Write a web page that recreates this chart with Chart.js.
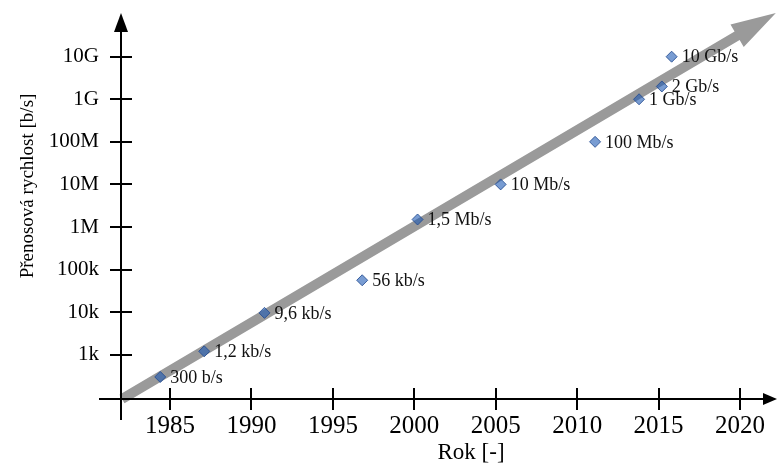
<!DOCTYPE html>
<html>
<head>
<meta charset="utf-8">
<script src="https://cdn.jsdelivr.net/npm/chart.js@4.4.1/dist/chart.umd.min.js"></script>
<style>
  html, body { margin: 0; padding: 0; background: #fff; }
  canvas { display: block; }
</style>
</head>
<body>
<canvas id="chart" width="777" height="463"></canvas>
<script>
// Milestones in data transfer speed
const years = [1984.4, 1987.1, 1990.8, 1996.8, 2000.2, 2005.3, 2011.1, 2013.8, 2015.2, 2015.8];
const rates = [300, 1200, 9600, 56000, 1.5e6, 1e7, 1e8, 1e9, 2e9, 1e10];
const rateLabels = ['300 b/s', '1,2 kb/s', '9,6 kb/s', '56 kb/s', '1,5 Mb/s', '10 Mb/s', '100 Mb/s', '1 Gb/s', '2 Gb/s', '10 Gb/s'];

// Axis ticks
const xTickYears = [1985, 1990, 1995, 2000, 2005, 2010, 2015, 2020];
const yTickValues = [1e3, 1e4, 1e5, 1e6, 1e7, 1e8, 1e9, 1e10];
const yTickLabels = ['1k', '10k', '100k', '1M', '10M', '100M', '1G', '10G'];

// Growth trend arrow (start and end)
const trendYears = [1982.05, 2022.2];
const trendRates = [91, 1.07e11];

const xTitle = 'Rok [-]';
const yTitle = 'Přenosová rychlost [b/s]';

const SERIF = "'Liberation Serif', 'Times New Roman', serif";

function drawArrowHead(ctx, tipX, tipY, ux, uy, len, half) {
  const nx = -uy, ny = ux;
  const bx = tipX - ux * len, by = tipY - uy * len;
  ctx.beginPath();
  ctx.moveTo(tipX, tipY);
  ctx.lineTo(bx + nx * half, by + ny * half);
  ctx.lineTo(bx - nx * half, by - ny * half);
  ctx.closePath();
  ctx.fill();
}

// Trend arrow, axes with arrowheads and crossing tick marks, axis titles
const axesPlugin = {
  id: 'axesDecor',
  beforeDatasetsDraw(chart) {
    const { ctx, chartArea, scales } = chart;
    const xs = scales.x, ys = scales.y;
    ctx.save();

    // gray trend arrow
    const x0 = xs.getPixelForValue(trendYears[0]), y0 = ys.getPixelForValue(trendRates[0]);
    const x1 = xs.getPixelForValue(trendYears[1]), y1 = ys.getPixelForValue(trendRates[1]);
    const dx = x1 - x0, dy = y1 - y0, L = Math.hypot(dx, dy);
    const ux = dx / L, uy = dy / L, nx = -uy, ny = ux;
    const headLen = 45, headHalf = 13, shaftHalf = 5;
    const bx = x1 - ux * headLen, by = y1 - uy * headLen;
    ctx.fillStyle = '#9a9a9a';
    ctx.beginPath();
    ctx.moveTo(x0 + nx * shaftHalf, y0 + ny * shaftHalf);
    ctx.lineTo(bx + nx * shaftHalf, by + ny * shaftHalf);
    ctx.lineTo(bx + nx * headHalf, by + ny * headHalf);
    ctx.lineTo(x1, y1);
    ctx.lineTo(bx - nx * headHalf, by - ny * headHalf);
    ctx.lineTo(bx - nx * shaftHalf, by - ny * shaftHalf);
    ctx.lineTo(x0 - nx * shaftHalf, y0 - ny * shaftHalf);
    ctx.closePath();
    ctx.fill();

    // axes
    const ax = chartArea.left, ay = chartArea.bottom;
    ctx.strokeStyle = '#000';
    ctx.fillStyle = '#000';
    ctx.lineWidth = 2;
    ctx.beginPath();
    ctx.moveTo(ax, ay + 21);
    ctx.lineTo(ax, chartArea.top + 15);
    ctx.moveTo(ax - 22, ay);
    ctx.lineTo(chartArea.right - 10, ay);
    ctx.stroke();
    drawArrowHead(ctx, ax, chartArea.top, 0, -1, 19, 7);
    drawArrowHead(ctx, chartArea.right, ay, 1, 0, 14, 6);

    // tick marks crossing the axes
    ctx.beginPath();
    yTickValues.forEach(v => {
      const py = Math.round(ys.getPixelForValue(v));
      ctx.moveTo(ax - 11, py);
      ctx.lineTo(ax + 11, py);
    });
    xTickYears.forEach(v => {
      const px = Math.round(xs.getPixelForValue(v));
      ctx.moveTo(px, ay - 11);
      ctx.lineTo(px, ay + 11);
    });
    ctx.stroke();

    // axis titles
    ctx.fillStyle = '#000';
    ctx.textBaseline = 'alphabetic';
    ctx.textAlign = 'center';
    ctx.font = '23px ' + SERIF;
    ctx.fillText(xTitle, 471, 459);
    ctx.save();
    ctx.translate(33, 186);
    ctx.rotate(-Math.PI / 2);
    ctx.font = '19px ' + SERIF;
    ctx.fillText(yTitle, 0, 0);
    ctx.restore();

    ctx.restore();
  },
  afterDatasetsDraw(chart) {
    const { ctx } = chart;
    const meta = chart.getDatasetMeta(0);
    ctx.save();
    ctx.fillStyle = '#111';
    ctx.font = '18px ' + SERIF;
    ctx.textAlign = 'left';
    ctx.textBaseline = 'middle';
    meta.data.forEach((pt, i) => {
      ctx.fillText(rateLabels[i], pt.x + 10, pt.y + 1);
    });
    ctx.restore();
  }
};

new Chart(document.getElementById('chart'), {
  type: 'scatter',
  data: {
    datasets: [{
      data: years.map((y, i) => ({ x: y, y: rates[i] })),
      pointStyle: 'rectRot',
      pointRadius: 5.5,
      pointHoverRadius: 5.5,
      backgroundColor: 'rgba(30, 90, 180, 0.6)',
      borderColor: 'rgba(35, 75, 145, 0.85)',
      borderWidth: 1,
      clip: false
    }]
  },
  options: {
    responsive: false,
    animation: false,
    layout: { autoPadding: false, padding: { top: 13, right: 0, bottom: 0, left: 0 } },
    plugins: { legend: { display: false }, tooltip: { enabled: false } },
    scales: {
      x: {
        type: 'linear',
        min: 1981.99,
        max: 2022.27,
        afterBuildTicks: s => { s.ticks = xTickYears.map(v => ({ value: v })); },
        afterFit: s => { s.height = 64; s.paddingLeft = 0; s.paddingRight = 0; },
        grid: { display: false, drawTicks: false },
        border: { display: false },
        ticks: {
          color: '#000',
          padding: 12,
          maxRotation: 0,
          autoSkip: false,
          font: { family: SERIF, size: 25 },
          callback: v => String(v)
        }
      },
      y: {
        type: 'logarithmic',
        min: 91.06,
        max: 1.063e11,
        afterBuildTicks: s => { s.ticks = yTickValues.map(v => ({ value: v })); },
        afterFit: s => { s.width = 121; s.paddingTop = 0; s.paddingBottom = 0; },
        grid: { display: false, drawTicks: false },
        border: { display: false },
        ticks: {
          color: '#000',
          padding: 22,
          autoSkip: false,
          font: { family: SERIF, size: 21 },
          callback: (v, i) => yTickLabels[i]
        }
      }
    }
  },
  plugins: [axesPlugin]
});
</script>
</body>
</html>
